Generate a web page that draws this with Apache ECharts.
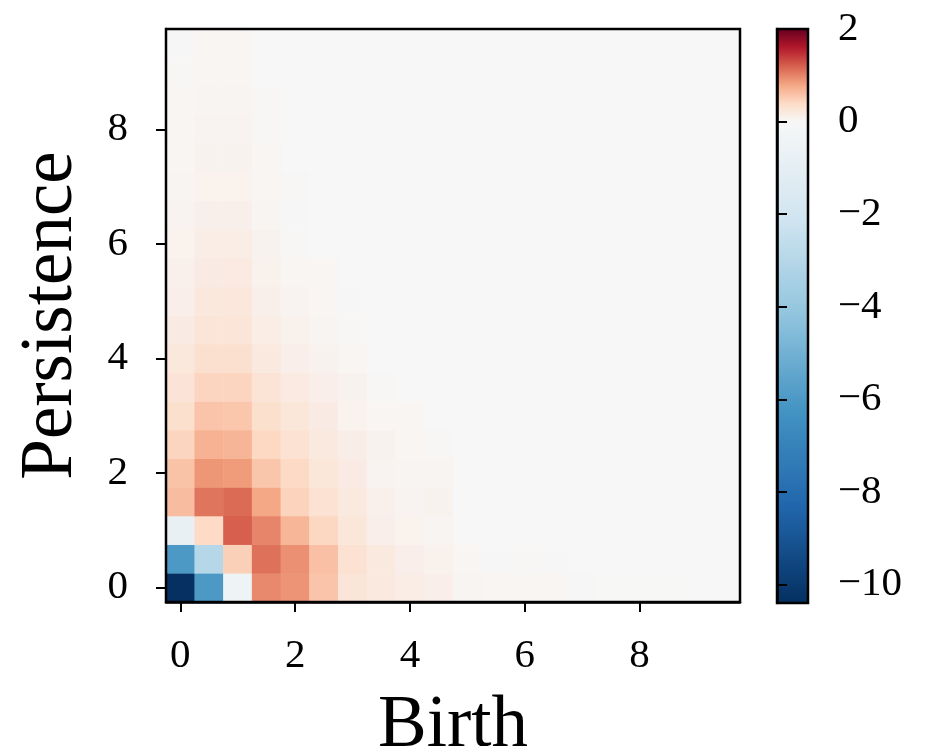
<!DOCTYPE html>
<html><head><meta charset="utf-8">
<script src="https://cdn.jsdelivr.net/npm/echarts@6/dist/echarts.min.js"></script>
<style>html,body{margin:0;padding:0;background:#fff}#c{width:949px;height:746px}</style>
</head><body><div id="c"></div><script>
// Category centres (cell width 0.5)
const birthCats = ['0','0.5','1','1.5','2','2.5','3','3.5','4','4.5','5','5.5','6','6.5','7','7.5','8','8.5','9','9.5'];
const persistenceCats = ['0','0.5','1','1.5','2','2.5','3','3.5','4','4.5','5','5.5','6','6.5','7','7.5','8','8.5','9','9.5'];
const shownTicks = ['0','2','4','6','8'];
const colorbarTicks = [-10,-8,-6,-4,-2,0,2];
const vmin = -10.4, vmax = 2;

// One row per persistence value, 20 birth columns each
const p0_0 = [-10.4,-6.0,-0.5,0.96,0.9,0.57,0.26,0.2,0.14,0.12,0.05,0.04,0.04,0.03,0.01,0.005,0.005,0.005,0,0];
const p0_5 = [-6.0,-3.0,0.48,1.1,0.92,0.6,0.3,0.2,0.12,0.09,0.04,0.01,0.02,0.01,0,0,0,0,0,0];
const p1_0 = [-0.8,0.4,1.2,0.99,0.67,0.43,0.24,0.12,0.08,0.05,0,0,0,0,0,0,0,0,0,0];
const p1_5 = [0.62,1.08,1.14,0.78,0.46,0.3,0.2,0.1,0.06,0.07,0,0,0,0,0,0,0,0,0,0];
const p2_0 = [0.58,0.88,0.85,0.56,0.41,0.24,0.16,0.06,0.05,0.05,0,0,0,0,0,0,0,0,0,0];
const p2_5 = [0.44,0.7,0.68,0.42,0.3,0.2,0.13,0.07,0.04,0.02,0,0,0,0,0,0,0,0,0,0];
const p3_0 = [0.34,0.57,0.55,0.34,0.24,0.16,0.08,0.04,0.04,0,0,0,0,0,0,0,0,0,0,0];
const p3_5 = [0.27,0.44,0.44,0.28,0.18,0.12,0.07,0.02,0,0,0,0,0,0,0,0,0,0,0,0];
const p4_0 = [0.22,0.33,0.33,0.2,0.12,0.07,0.04,0,0,0,0,0,0,0,0,0,0,0,0,0];
const p4_5 = [0.16,0.26,0.26,0.14,0.09,0.05,0.02,0,0,0,0,0,0,0,0,0,0,0,0,0];
const p5_0 = [0.12,0.22,0.23,0.11,0.06,0.03,0.01,0,0,0,0,0,0,0,0,0,0,0,0,0];
const p5_5 = [0.1,0.17,0.18,0.09,0.04,0.03,0,0,0,0,0,0,0,0,0,0,0,0,0,0];
const p6_0 = [0.08,0.14,0.14,0.07,0.02,0,0,0,0,0,0,0,0,0,0,0,0,0,0,0];
const p6_5 = [0.06,0.11,0.11,0.05,0.01,0,0,0,0,0,0,0,0,0,0,0,0,0,0,0];
const p7_0 = [0.05,0.08,0.08,0.04,0.02,0,0,0,0,0,0,0,0,0,0,0,0,0,0,0];
const p7_5 = [0.04,0.07,0.07,0.03,0,0,0,0,0,0,0,0,0,0,0,0,0,0,0,0];
const p8_0 = [0.03,0.06,0.06,0.02,0,0,0,0,0,0,0,0,0,0,0,0,0,0,0,0];
const p8_5 = [0.03,0.05,0.05,0.02,0,0,0,0,0,0,0,0,0,0,0,0,0,0,0,0];
const p9_0 = [0.02,0.04,0.04,0,0,0,0,0,0,0,0,0,0,0,0,0,0,0,0,0];
const p9_5 = [0.01,0.035,0.035,0,0,0,0,0,0,0,0,0,0,0,0,0,0,0,0,0];

const rows = [p0_0,p0_5,p1_0,p1_5,p2_0,p2_5,p3_0,p3_5,p4_0,p4_5,p5_0,p5_5,p6_0,p6_5,p7_0,p7_5,p8_0,p8_5,p9_0,p9_5];
const data = [];
rows.forEach((row, j) => row.forEach((v, i) => data.push([i, j, v])));

// RdBu_r with a two-slope norm centred at 0
const anchors = ['#053061','#2166ac','#4393c3','#92c5de','#d1e5f0','#f7f7f7','#fddbc7','#f4a582','#d6604d','#b2182b','#67001f'];
function hex2rgb(h){return [1,3,5].map(k=>parseInt(h.substr(k,2),16));}
function cmap(t){
  t=Math.max(0,Math.min(1,t));
  const x=t*10, i=Math.min(9,Math.floor(x)), f=x-i;
  const a=hex2rgb(anchors[i]), b=hex2rgb(anchors[i+1]);
  return 'rgb('+a.map((c,k)=>Math.round(c+(b[k]-c)*f)).join(',')+')';
}
function norm(v){return v<0 ? 0.5*(v-vmin)/(0-vmin) : 0.5+0.5*v/vmax;}
const stops=[];
const NS=248;
for(let k=0;k<=NS;k++){stops.push(cmap(norm(vmin+(vmax-vmin)*k/NS)));}

const FONT='Liberation Serif';
const tickFilter = (idx, val) => shownTicks.indexOf(val) >= 0;
const chart = echarts.init(document.getElementById('c'));
chart.setOption({
  backgroundColor:'#fff',
  animation:false,
  grid:[
    {left:166, top:29, width:574, height:573, show:true, borderColor:'#000', borderWidth:2.5, backgroundColor:'transparent', z:10, containLabel:false, outerBoundsMode:'none'},
    {left:777, top:29, width:31, height:574, show:true, borderColor:'#000', borderWidth:2.5, backgroundColor:'transparent', z:10, containLabel:false, outerBoundsMode:'none'}
  ],
  xAxis:[
    {type:'category', gridIndex:0, data:birthCats,
     axisLine:{show:true, lineStyle:{color:'#000', width:2.5}},
     axisTick:{show:true, alignWithLabel:true, interval:tickFilter, length:10, lineStyle:{color:'#000', width:2}},
     axisLabel:{interval:tickFilter, fontFamily:FONT, fontSize:41, color:'#000', margin:34},
     splitLine:{show:false}, splitArea:{show:false},
     name:'Birth', nameLocation:'middle', nameGap:88,
     nameTextStyle:{fontFamily:FONT, fontSize:73, color:'#000'}},
    {type:'value', gridIndex:1, show:false, min:0, max:1}
  ],
  yAxis:[
    {type:'category', gridIndex:0, data:persistenceCats,
     axisLine:{show:true, lineStyle:{color:'#000', width:2.5}},
     axisTick:{show:true, alignWithLabel:true, interval:tickFilter, length:10, lineStyle:{color:'#000', width:2}},
     axisLabel:{interval:tickFilter, fontFamily:FONT, fontSize:41, color:'#000', margin:38},
     splitLine:{show:false}, splitArea:{show:false},
     name:'Persistence', nameLocation:'middle', nameGap:78, nameRotate:90,
     nameTextStyle:{fontFamily:FONT, fontSize:73, color:'#000'}},
    {type:'value', gridIndex:1, min:vmin, max:vmax, position:'right',
     axisLine:{show:true, lineStyle:{color:'#000', width:2.5}},
     axisTick:{show:true, customValues:colorbarTicks, length:10, lineStyle:{color:'#000', width:2}},
     axisLabel:{customValues:colorbarTicks, fontFamily:FONT, fontSize:41, color:'#000', margin:30,
       formatter:v=>String(v).replace('-','\u2212')},
     splitLine:{show:false}, z:10}
  ],
  visualMap:{type:'continuous', min:vmin, max:vmax, dimension:2, seriesIndex:0,
    inRange:{color:stops}, calculable:false, orient:'vertical',
    left:777, top:29, itemWidth:31, itemHeight:574, padding:0, z:1, hoverLink:false},
  series:[{type:'heatmap', xAxisIndex:0, yAxisIndex:0, data:data,
    itemStyle:{borderWidth:0}, emphasis:{disabled:true}, progressive:0}]
});
</script></body></html>
